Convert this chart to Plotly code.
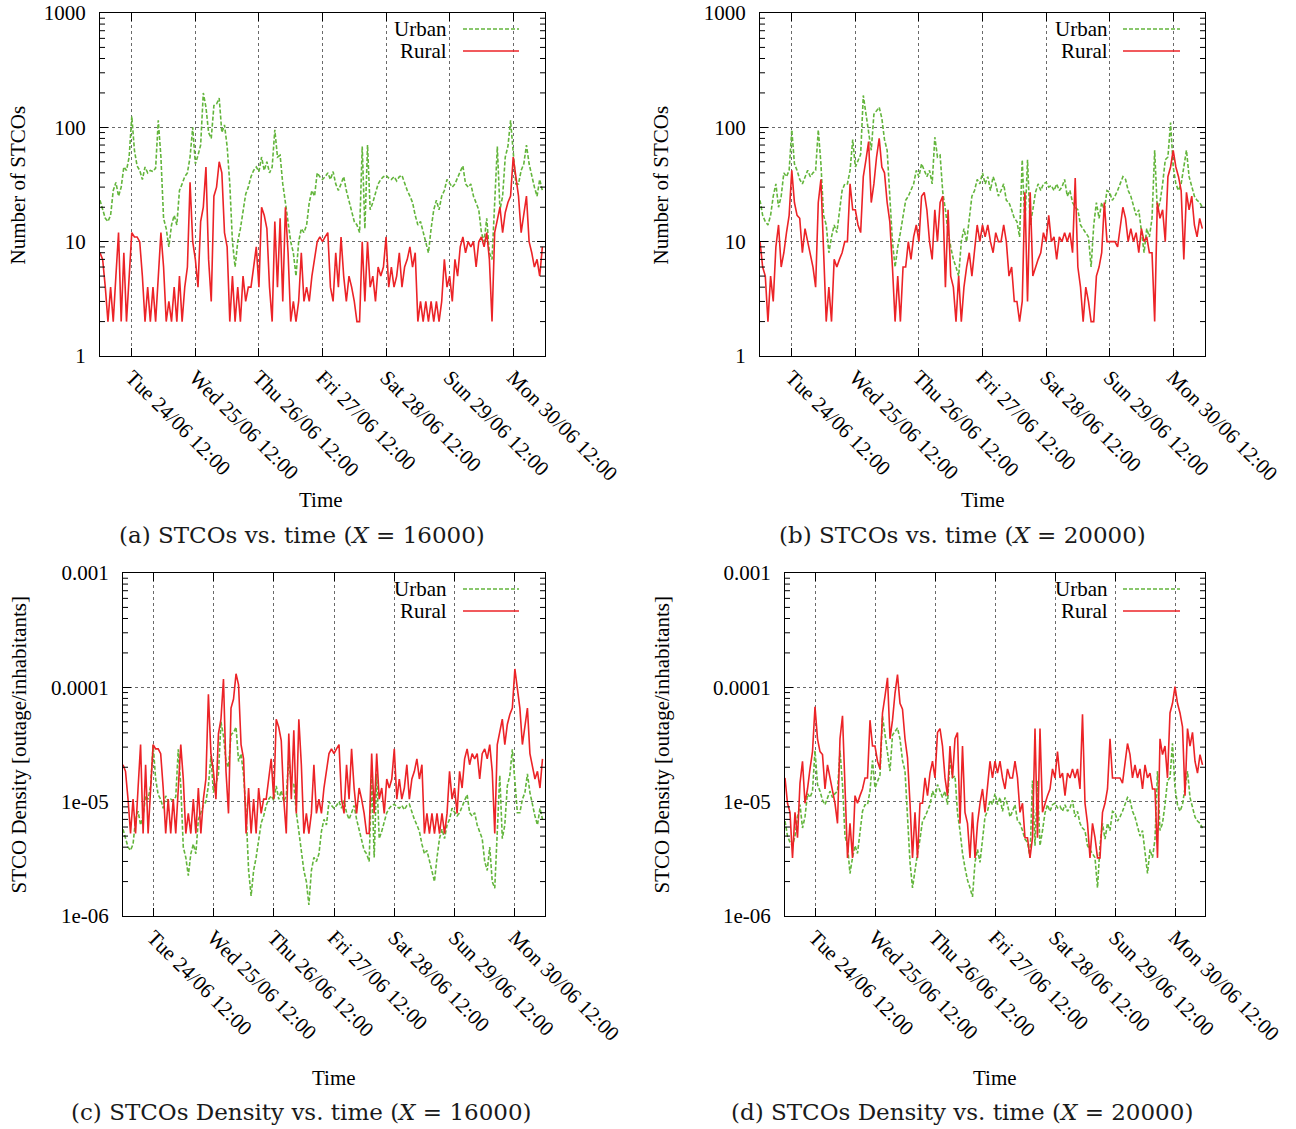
import plotly.graph_objects as go
import pandas as pd
import math

W, H = 1296, 1129
OFF = 0

# ---------------- data (hourly, Tue 24/06/2014 00:00 .. Mon 30/06 23:00) ----------------
hours = pd.date_range("2014-06-24 00:00", periods=168, freq="h")

urban_a = [23, 19, 16, 15, 17, 28, 33, 25, 30, 45, 42, 55,
           125, 63, 46, 42, 35, 45, 40, 42, 41, 44, 115, 55,
           16, 13, 9, 14, 17, 14, 28, 32, 37, 40, 55, 100,
           48, 57, 70, 200, 150, 90, 80, 155, 160, 180, 90, 105,
           68, 32, 10, 6, 10, 13, 18, 26, 30, 37, 42, 45,
           41, 55, 42, 50, 40, 45, 95, 55, 57, 32, 22, 14,
           10, 8, 5, 10, 13, 12, 14, 22, 28, 25, 40, 37,
           35, 37, 40, 35, 41, 32, 28, 32, 37, 28, 23, 19,
           15, 14, 12, 68, 13, 70, 19, 22, 26, 32, 35, 37,
           38, 36, 35, 37, 34, 37, 38, 32, 28, 25, 22, 17,
           14, 15, 12, 10, 8, 13, 19, 23, 19, 25, 28, 35,
           32, 30, 32, 37, 41, 46, 32, 30, 32, 25, 22, 19,
           12, 10, 16, 8, 7, 25, 68, 19, 25, 55, 68, 115,
           57, 32, 32, 42, 48, 70, 48, 37, 30, 25, 35, 28]

rural_a = [8, 7, 4, 2, 4, 2, 5, 12, 2, 8, 2, 5,
           12, 11, 11, 10, 5, 2, 4, 2, 4, 2, 5, 12,
           6, 2, 3, 2, 4, 2, 5, 2, 4, 6, 33, 10,
           7, 4, 15, 20, 45, 7, 3, 25, 30, 50, 40, 12,
           9, 2, 5, 2, 4, 2, 5, 3, 4, 4, 6, 9,
           4, 20, 17, 13, 4, 2, 15, 4, 16, 3, 20, 8,
           2, 3, 2, 3, 8, 3, 4, 3, 5, 7, 10, 11,
           10, 11, 12, 4, 3, 8, 4, 11, 5, 3, 5, 4,
           3, 2, 2, 10, 3, 10, 4, 5, 3, 6, 5, 6,
           11, 4, 6, 4, 5, 8, 4, 6, 7, 9, 6, 8,
           2, 3, 2, 3, 2, 3, 2, 3, 2, 3, 7, 4,
           5, 3, 7, 5, 9, 11, 8, 10, 9, 10, 6, 10,
           11, 9, 12, 7, 2, 12, 15, 20, 12, 18, 22, 25,
           55, 35, 25, 12, 18, 25, 10, 8, 6, 7, 5, 9]

urban_b = [23, 17, 15, 14, 17, 25, 32, 20, 25, 40, 37, 42,
           95, 48, 42, 35, 32, 37, 42, 37, 40, 42, 95, 48,
           17, 14, 8, 11, 14, 12, 19, 28, 32, 32, 42, 78,
           45, 52, 58, 190, 130, 90, 63, 130, 140, 150, 120, 78,
           63, 25, 10, 6, 9, 12, 16, 23, 25, 28, 32, 42,
           37, 48, 42, 37, 42, 32, 82, 55, 57, 27, 19, 12,
           9, 7, 6, 5, 10, 13, 10, 16, 25, 28, 35, 32,
           40, 32, 37, 28, 37, 32, 25, 28, 32, 23, 22, 19,
           16, 15, 11, 52, 14, 52, 14, 19, 27, 32, 28, 32,
           33, 30, 31, 28, 32, 28, 30, 35, 25, 28, 22, 20,
           19, 14, 13, 12, 11, 6, 14, 22, 16, 22, 19, 28,
           27, 23, 25, 28, 32, 37, 35, 28, 25, 20, 17, 19,
           12, 8, 13, 11, 16, 63, 19, 22, 32, 52, 55, 110,
           45, 32, 28, 32, 45, 63, 37, 30, 25, 23, 22, 20]

rural_b = [10, 6, 5, 2, 5, 3, 9, 14, 6, 8, 12, 17,
           42, 22, 17, 16, 8, 13, 10, 8, 6, 4, 22, 35,
           8, 2, 4, 2, 7, 6, 7, 8, 10, 10, 32, 19,
           19, 14, 12, 37, 52, 75, 22, 32, 55, 80, 45, 40,
           22, 15, 6, 2, 5, 2, 6, 6, 10, 7, 11, 14,
           10, 25, 27, 19, 10, 7, 19, 10, 22, 25, 4, 19,
           5, 4, 2, 5, 2, 4, 6, 8, 5, 8, 14, 10,
           14, 11, 14, 10, 8, 12, 10, 10, 14, 10, 5, 6,
           3, 3, 2, 3, 27, 3, 27, 5, 6, 7, 8, 12,
           10, 17, 10, 11, 7, 11, 10, 12, 10, 12, 8, 36,
           6, 4, 2, 4, 3, 2, 2, 5, 6, 8, 22, 10,
           10, 10, 10, 9, 14, 20, 16, 10, 13, 10, 12, 8,
           13, 10, 11, 8, 8, 2, 22, 16, 19, 10, 37, 45,
           63, 45, 37, 28, 7, 27, 19, 25, 14, 11, 16, 13]

URBAN_INHAB_16000 = 4.0e6
RURAL_INHAB_16000 = 3.8e5
URBAN_INHAB_20000 = 3.4e6
RURAL_INHAB_20000 = 6.2e5

urban_c = [v / URBAN_INHAB_16000 for v in urban_a]
rural_c = [v / RURAL_INHAB_16000 for v in rural_a]
urban_d = [v / URBAN_INHAB_20000 for v in urban_b]
rural_d = [v / RURAL_INHAB_20000 for v in rural_b]

day_ticks = ["2014-06-24 12:00", "2014-06-25 12:00", "2014-06-26 12:00", "2014-06-27 12:00",
             "2014-06-28 12:00", "2014-06-29 12:00", "2014-06-30 12:00"]
day_labels = ["Tue 24/06 12:00", "Wed 25/06 12:00", "Thu 26/06 12:00", "Fri 27/06 12:00",
              "Sat 28/06 12:00", "Sun 29/06 12:00", "Mon 30/06 12:00"]
count_ticks = [1, 10, 100, 1000]
count_labels = ["1", "10", "100", "1000"]
dens_ticks = [1e-6, 1e-5, 1e-4, 1e-3]
dens_labels = ["1e-06", "1e-05", "0.0001", "0.001"]

captions = ["(a) STCOs vs. time (<i>X</i> = 16000)",
            "(b) STCOs vs. time (<i>X</i> = 20000)",
            "(c) STCOs Density vs. time (<i>X</i> = 16000)",
            "(d) STCOs Density vs. time (<i>X</i> = 20000)"]

# ---------------- layout helpers (arguments are window pixels) ----------------
def px(x):
    return (x - OFF) / W

def py(y):
    return 1 - (y - OFF) / H

URBAN_COLOR = "#63b53c"
RURAL_COLOR = "#ec2327"
SERIF = "Liberation Serif"
TICK_SIZE = 21
TEXT_SIZE = 21
GRID = "#6a6a6a"

panels = [
    dict(box=(100, 545, 13, 356), urban=urban_a, rural=rural_a, yt=count_ticks, yl=count_labels,
         yr=(0, 3), ytitle="Number of STCOs", ytx=18, tx=321, ty=500, cap=captions[0], cx=302, cy=535,
         legx=449, legy=(29, 51), lx=(463, 519)),
    dict(box=(760, 1205, 13, 356), urban=urban_b, rural=rural_b, yt=count_ticks, yl=count_labels,
         yr=(0, 3), ytitle="Number of STCOs", ytx=661, tx=983, ty=500, cap=captions[1], cx=962, cy=535,
         legx=1110, legy=(29, 51), lx=(1123, 1180)),
    dict(box=(123, 545, 573, 916), urban=urban_c, rural=rural_c, yt=dens_ticks, yl=dens_labels,
         yr=(-6, -3), ytitle="STCO Density [outage/inhabitants]", ytx=18, tx=334, ty=1078, cap=captions[2],
         cx=301, cy=1112, legx=449, legy=(589, 611), lx=(463, 519)),
    dict(box=(785, 1205, 573, 916), urban=urban_d, rural=rural_d, yt=dens_ticks, yl=dens_labels,
         yr=(-6, -3), ytitle="STCO Density [outage/inhabitants]", ytx=661, tx=995, ty=1078, cap=captions[3],
         cx=962, cy=1112, legx=1110, legy=(589, 611), lx=(1123, 1180)),
]

fig = go.Figure()
layout = dict(width=W, height=H, margin=dict(l=0, r=0, t=0, b=0, pad=0), autosize=False,
              paper_bgcolor="white", plot_bgcolor="white", showlegend=False)
annotations = []
shapes = []

for i, p in enumerate(panels):
    n = "" if i == 0 else str(i + 1)
    x0, x1, y0, y1 = p["box"]
    fig.add_trace(go.Scatter(x=hours, y=p["urban"], mode="lines", name="Urban",
                             line=dict(color=URBAN_COLOR, width=1.6, dash="4px,2px"),
                             xaxis="x" + n, yaxis="y" + n))
    fig.add_trace(go.Scatter(x=hours, y=p["rural"], mode="lines", name="Rural",
                             line=dict(color=RURAL_COLOR, width=1.6),
                             xaxis="x" + n, yaxis="y" + n))
    layout["xaxis" + n] = dict(
        domain=[px(x0), px(x1)], anchor="y" + n, type="date",
        range=["2014-06-24 00:00", "2014-07-01 00:00"],
        tickmode="array", tickvals=day_ticks, ticktext=day_labels, tickangle=45,
        ticks="inside", ticklen=8, tickcolor="black", showline=True, linecolor="black",
        linewidth=1, mirror="ticks", showgrid=True, gridcolor=GRID, griddash="dot",
        gridwidth=1, zeroline=False, automargin=False, ticklabeloverflow="allow",
        tickfont=dict(family=SERIF, size=TICK_SIZE, color="black"))
    layout["yaxis" + n] = dict(
        domain=[py(y1), py(y0)], anchor="x" + n, type="log", range=list(p["yr"]),
        tickmode="array", tickvals=p["yt"], ticktext=p["yl"],
        ticks="inside", ticklen=8, tickcolor="black", showline=True, linecolor="black",
        linewidth=1, mirror="ticks", showgrid=True, gridcolor=GRID, griddash="dot",
        gridwidth=1, zeroline=False, ticklabelstandoff=9, automargin=False,
        ticklabeloverflow="allow",
        tickfont=dict(family=SERIF, size=TICK_SIZE, color="black"))
    # minor log ticks (left and right borders)
    lo, hi = p["yr"]
    mlen = 5 / (x1 - x0)
    for dec in range(lo, hi):
        for m in range(2, 10):
            f = (dec + math.log10(m) - lo) / (hi - lo)
            for xa, xb in ((0, mlen), (1 - mlen, 1)):
                shapes.append(dict(type="line", xref="x%s domain" % n, yref="y%s domain" % n,
                                   x0=xa, x1=xb, y0=f, y1=f, line=dict(color="black", width=1)))
    # axis titles
    annotations.append(dict(text=p["ytitle"], x=px(p["ytx"]), y=py((y0 + y1) / 2 + 1),
                            xref="paper", yref="paper", xanchor="center", yanchor="middle",
                            textangle=-90, showarrow=False,
                            font=dict(family=SERIF, size=TEXT_SIZE, color="black")))
    annotations.append(dict(text="Time", x=px(p["tx"]), y=py(p["ty"]), xref="paper", yref="paper",
                            xanchor="center", yanchor="middle", showarrow=False,
                            font=dict(family=SERIF, size=TEXT_SIZE, color="black")))
    annotations.append(dict(text=p["cap"], x=px(p["cx"]), y=py(p["cy"]), xref="paper", yref="paper",
                            xanchor="center", yanchor="middle", showarrow=False,
                            font=dict(family="DejaVu Serif", size=23, color="#1a1a1a")))
    # key (gnuplot style: text right-aligned, sample to the right)
    for label, yy, col, dash in (("Urban", p["legy"][0], URBAN_COLOR, "4px,2px"),
                                 ("Rural", p["legy"][1], RURAL_COLOR, "solid")):
        annotations.append(dict(text=label, x=px(p["legx"]), y=py(yy), xref="paper", yref="paper",
                                xanchor="right", yanchor="middle", showarrow=False,
                                font=dict(family=SERIF, size=TEXT_SIZE, color="black")))
        shapes.append(dict(type="line", xref="paper", yref="paper", x0=px(p["lx"][0]),
                           x1=px(p["lx"][1]), y0=py(yy), y1=py(yy),
                           line=dict(color=col, width=1.6, dash=dash)))

layout["annotations"] = annotations
layout["shapes"] = shapes
fig.update_layout(**layout)
# remove the default page margin so the 1296x1129 figure fills the window exactly
fig.write_html("out.html", config={"displayModeBar": False},
               post_script="document.body.style.margin='0';document.body.style.overflow='hidden';")
